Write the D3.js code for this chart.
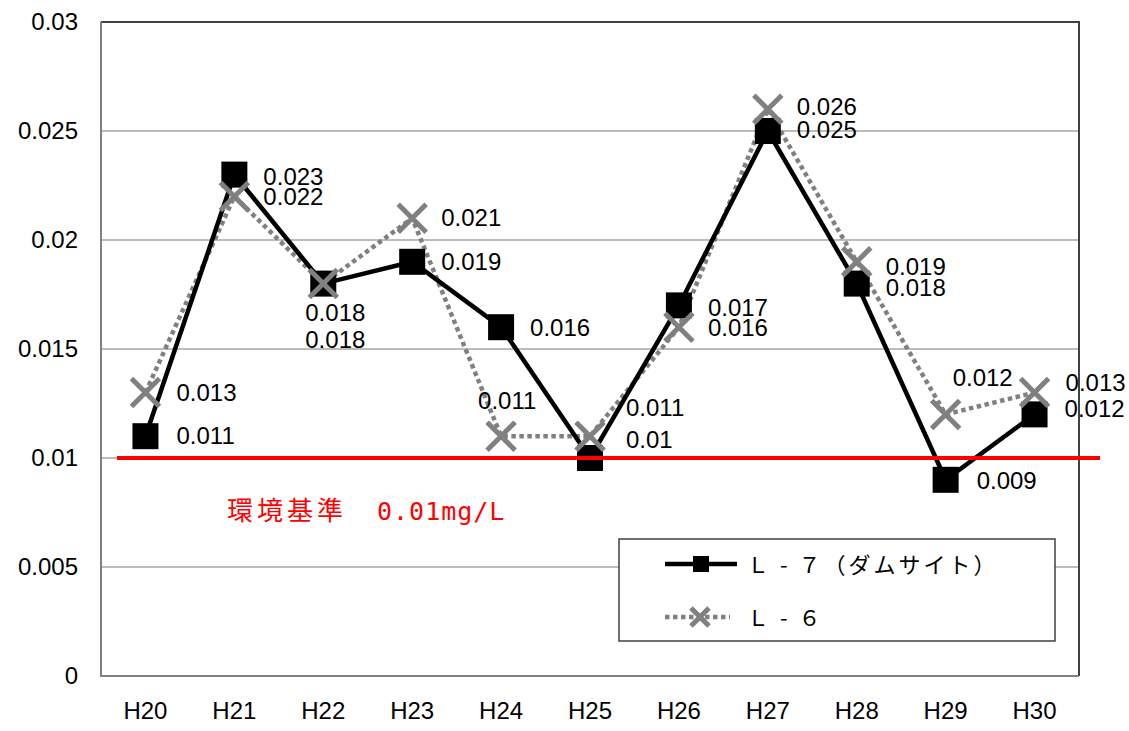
<!DOCTYPE html>
<html><head><meta charset="utf-8">
<script src="https://cdn.jsdelivr.net/npm/d3@7"></script>
<style>body{margin:0;background:#fff}svg{display:block}</style>
</head><body>
<svg id="c" width="1129" height="731"></svg>
<script>
const categories = ["H20","H21","H22","H23","H24","H25","H26","H27","H28","H29","H30"];
const l7Values = [0.011,0.023,0.018,0.019,0.016,0.010,0.017,0.025,0.018,0.009,0.012];
const l6Values = [0.013,0.022,0.018,0.021,0.011,0.011,0.016,0.026,0.019,0.012,0.013];
const l7Labels = ["0.011","0.023","0.018","0.019","0.016","0.01","0.017","0.025","0.018","0.009","0.012"];
const l6Labels = ["0.013","0.022","0.018","0.021","0.011","0.011","0.016","0.026","0.019","0.012","0.013"];
const yTicks = [0,0.005,0.01,0.015,0.02,0.025,0.03];
const yTickLabels = ["0","0.005","0.01","0.015","0.02","0.025","0.03"];
const standardValue = 0.01;
const seriesNames = ["Ｌ - ７（ダムサイト）","Ｌ - ６"];
// label placement (style): [dx, dy]
const l7Place = [[31,0],[29,2],[-18,56],[29,0],[29,1],[36,-18],[29,3],[29,-1],[29,4],[31,1],[30,-5]];
const l6Place = [[31,0],[29,1],[-18,29],[29,0],[-23,-35],[36,-28],[29,1],[29,-2],[29,5],[7,-36],[31,-10]];

const svg = d3.select("#c");
const L=101, R=1079, T=22, B=676;
const x = d3.scaleBand().domain(categories).range([L,R]);
const y = d3.scaleLinear().domain([0,0.03]).range([B,T]);
const cx = d => x(d)+x.bandwidth()/2;
const font = "Liberation Sans, Arial, sans-serif";

svg.append("g").selectAll("line").data(yTicks.filter(t=>t>0 && t<0.03)).join("line")
  .attr("x1",L).attr("x2",R).attr("y1",d=>y(d)).attr("y2",d=>y(d))
  .attr("stroke","#a6a6a6").attr("stroke-width",1.5);
svg.append("path").attr("d",`M${L},${T}H${R}V${B}`).attr("fill","none").attr("stroke","#404040").attr("stroke-width",2);
svg.append("path").attr("d",`M${L},${T}V${B}H${R}`).attr("fill","none").attr("stroke","#808080").attr("stroke-width",2);

svg.append("g").selectAll("text").data(yTicks).join("text")
  .attr("x",78).attr("y",d=>y(d)+8).attr("text-anchor","end")
  .attr("font-family",font).attr("font-size",24).attr("fill","#000")
  .text((d,i)=>yTickLabels[i]);
svg.append("g").selectAll("text").data(categories).join("text")
  .attr("x",d=>cx(d)).attr("y",719).attr("text-anchor","middle")
  .attr("font-family",font).attr("font-size",24).attr("fill","#000")
  .text(d=>d);

const line = d3.line().x((d,i)=>cx(categories[i])).y(d=>y(d));

svg.append("path").datum(l6Values).attr("d",line).attr("fill","none")
  .attr("stroke","#808080").attr("stroke-width",4.5).attr("stroke-dasharray","4.5 3.5");
svg.append("path").datum(l7Values).attr("d",line).attr("fill","none")
  .attr("stroke","#000").attr("stroke-width",4.5);

svg.append("g").selectAll("rect").data(l7Values).join("rect")
  .attr("x",(d,i)=>cx(categories[i])-13).attr("y",d=>y(d)-13)
  .attr("width",26).attr("height",26).attr("fill","#000");
function xMark(g, px, py, s){
  g.append("path").attr("d",`M${px-s},${py-s}L${px+s},${py+s}M${px-s},${py+s}L${px+s},${py-s}`)
   .attr("stroke","#808080").attr("stroke-width",5).attr("fill","none");
}
const g6 = svg.append("g");
l6Values.forEach((d,i)=>xMark(g6, cx(categories[i]), y(d), 14));

svg.append("line").attr("x1",117).attr("x2",1100).attr("y1",y(standardValue)).attr("y2",y(standardValue))
  .attr("stroke","#ff0000").attr("stroke-width",4);

function labels(vals, labs, place){
  svg.append("g").selectAll("text").data(vals).join("text")
    .attr("x",(d,i)=>cx(categories[i])+place[i][0])
    .attr("y",(d,i)=>y(d)+place[i][1]+8)
    .attr("font-family",font).attr("font-size",24).attr("fill","#000")
    .text((d,i)=>labs[i]);
}
labels(l7Values,l7Labels,l7Place);
labels(l6Values,l6Labels,l6Place);

const st = svg.append("text").attr("x",227).attr("y",520).attr("fill","#ff0000");
st.append("tspan").attr("font-family","Noto Sans CJK JP").attr("font-size",26).attr("letter-spacing",4).text("環境基準　");
st.append("tspan").attr("font-family","DejaVu Sans Mono").attr("font-size",25).attr("letter-spacing",1).text("0.01mg/L");

const lg = svg.append("g");
lg.append("rect").attr("x",619).attr("y",539).attr("width",436).attr("height",102)
  .attr("fill","#fff").attr("stroke","#404040").attr("stroke-width",1.5);
lg.append("line").attr("x1",665).attr("x2",737).attr("y1",564).attr("y2",564).attr("stroke","#000").attr("stroke-width",4.5);
lg.append("rect").attr("x",693).attr("y",556).attr("width",16).attr("height",16).attr("fill","#000");
lg.append("line").attr("x1",665).attr("x2",730).attr("y1",617).attr("y2",617).attr("stroke","#808080").attr("stroke-width",4.5).attr("stroke-dasharray","4.5 3.5");
xMark(lg, 700, 617, 9);
lg.selectAll("text.s").data(seriesNames).join("text")
  .attr("x",747).attr("y",(d,i)=>[573,626][i])
  .attr("font-family","Noto Sans CJK JP").attr("font-size",22).attr("letter-spacing",3).attr("fill","#000")
  .text(d=>d);
</script>
</body></html>
